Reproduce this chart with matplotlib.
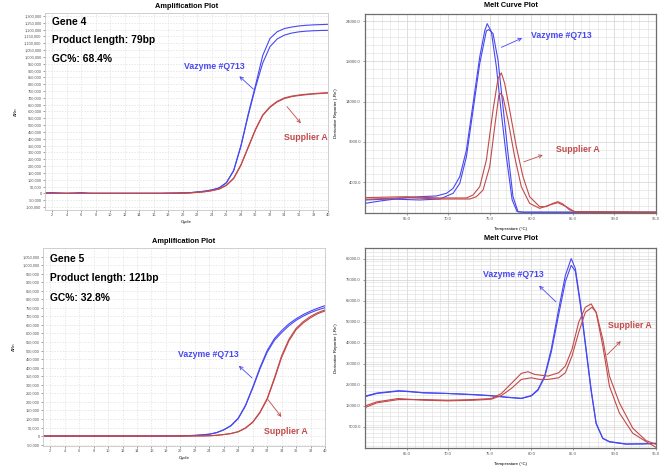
import numpy as np
import matplotlib
matplotlib.use("Agg")
import matplotlib.pyplot as plt
from matplotlib.ticker import MultipleLocator, FuncFormatter

plt.rcParams.update({
    'font.family': 'Liberation Sans',
    'axes.linewidth': 0.8,
    'xtick.major.size': 1.5,
    'ytick.major.size': 1.5,
    'xtick.major.width': 0.4,
    'ytick.major.width': 0.4,
    'xtick.minor.size': 0,
    'ytick.minor.size': 0,
    'xtick.color': '#555555',
    'ytick.color': '#555555',
})

BLUE = '#4848f0'
RED = '#c24a4a'

# === Amplification data (delta Rn per cycle) ===
cycles = list(range(1, 41))

g4_blue_1 = [3000, 5000, 2000, 0, 2000, 5000, 1000, 0, 0, 0, 0, 0, 0, 0, 0, 0, 0, 1000, 1500, 3000,
             5000, 10000, 16000, 25000, 40000, 78000, 169000, 350000, 580000, 790000,
             1010000, 1135000, 1185000, 1208000, 1219000, 1227000, 1232000, 1235000, 1237000, 1239000]
g4_blue_2 = [2000, 3000, 1000, 0, 1000, 3000, 0, 0, 0, 0, 0, 0, 0, 0, 0, 0, 0, 1000, 1500, 3000,
             5000, 10000, 16000, 25000, 40000, 78000, 165000, 345000, 570000, 775000,
             955000, 1075000, 1132000, 1160000, 1175000, 1184000, 1189000, 1192000, 1194000, 1195000]
g4_red_1 = [0, 0, 0, 0, 0, 0, 0, 0, 0, 0, 0, 0, 0, 0, 0, 0, 0, 500, 1000, 2000,
            4000, 7000, 12000, 20000, 32000, 60000, 112000, 210000, 340000, 470000,
            575000, 635000, 675000, 700000, 713000, 721000, 727000, 731000, 735000, 738000]
g4_red_2 = [0, 0, 0, 0, 0, 0, 0, 0, 0, 0, 0, 0, 0, 0, 0, 0, 0, 500, 1000, 2000,
            4000, 7000, 12000, 20000, 32000, 58000, 108000, 205000, 334000, 464000,
            570000, 630000, 670000, 695000, 709000, 717000, 723000, 728000, 732000, 735000]

g5_blue_1 = [0, 0, 0, 0, 0, 0, 0, 0, 0, 0, 0, 0, 0, 0, 0, 0, 500, 800, 1000, 1500,
             2500, 4000, 7000, 11000, 20000, 37000, 62000, 105000, 180000, 285000,
             400000, 500000, 570000, 617000, 656000, 686000, 711000, 731000, 748000, 763000]
g5_blue_2 = [0, 0, 0, 0, 0, 0, 0, 0, 0, 0, 0, 0, 0, 0, 0, 0, 500, 800, 1000, 1500,
             2500, 4000, 7000, 11000, 20000, 36000, 60000, 102000, 176000, 280000,
             392000, 490000, 560000, 605000, 645000, 677000, 702000, 722000, 738000, 751000]
g5_red_1 = [0, 0, 0, 0, 0, 0, 0, 0, 0, 0, 0, 0, 0, 0, 0, 0, 0, 0, 0, 300,
            500, 800, 1200, 2000, 4500, 9000, 15000, 26000, 48000, 82000,
            140000, 220000, 340000, 470000, 565000, 630000, 670000, 700000, 722000, 738000]
g5_red_2 = [0, 0, 0, 0, 0, 0, 0, 0, 0, 0, 0, 0, 0, 0, 0, 0, 0, 0, 0, 300,
            500, 800, 1200, 2000, 4500, 9000, 15000, 25000, 46000, 80000,
            136000, 214000, 332000, 460000, 556000, 622000, 662000, 692000, 716000, 732000]

# === Melt curve data (temperature, derivative reporter) ===
g4_blue_1_t = [60.0, 61.8, 64.2, 66.6, 68.6, 69.8, 70.6, 71.4, 72.2, 73.0, 73.8, 74.4, 74.7, 75.2,
               75.8, 76.4, 77.0, 77.7, 78.3, 79.0, 95.0]
g4_blue_1_v = [1350, 1640, 1970, 2180, 2270, 2600, 3220, 4670, 7980, 13770, 19570, 22800, 23700, 22680,
               18330, 12530, 7150, 1770, 320, 250, 240]
g4_blue_2_t = [60.0, 63.0, 66.6, 69.0, 70.6, 71.4, 72.2, 73.0, 73.8, 74.6, 74.9, 75.4, 76.0, 76.6,
               77.2, 77.8, 78.4, 79.0, 95.0]
g4_blue_2_v = [1770, 1890, 1770, 1890, 2600, 3840, 7150, 12950, 18740, 22800, 22960, 22470, 19160, 13360,
               7560, 2180, 320, 250, 240]
g4_red_1_t = [60.0, 65.0, 69.0, 72.2, 73.0, 73.8, 74.6, 75.4, 76.0, 76.4, 76.8, 77.4, 78.2, 79.0,
              79.8, 81.0, 81.8, 82.6, 83.2, 83.8, 84.6, 85.4, 95.0]
g4_red_1_v = [2060, 2180, 2020, 2020, 2390, 3420, 6740, 12950, 16880, 17580, 16260, 12950, 8390, 4670,
              2180, 940, 940, 1350, 1560, 1270, 530, 280, 240]
g4_red_2_t = [60.0, 65.0, 69.0, 72.6, 73.4, 74.2, 75.0, 75.6, 76.1, 76.3, 76.6, 77.2, 78.0, 78.8,
              79.8, 81.0, 82.2, 83.2, 84.2, 85.2, 95.0]
g4_red_2_v = [1850, 2060, 1890, 1890, 2180, 3010, 5910, 10880, 14810, 15020, 14600, 11700, 7150, 3420,
              1350, 730, 1150, 1440, 940, 320, 240]

g5_blue_1_t = [59.9, 61.4, 64.0, 65.0, 67.0, 70.0, 73.1, 75.1, 77.2, 78.8, 80.0, 80.8, 81.6, 82.4,
               83.3, 84.1, 84.8, 85.3, 85.9, 86.5, 87.2, 87.8, 88.6, 89.4, 91.4, 93.4, 95.0]
g5_blue_1_v = [19270, 20870, 21990, 21830, 21190, 20870, 20390, 19910, 19110, 18630, 19910, 22780, 29160, 41920,
               61060, 77000, 84990, 80200, 64250, 45100, 22780, 6830, -350, -1950, -3070, -3070, -2750]
g5_blue_2_t = [59.9, 61.4, 64.0, 65.0, 67.0, 70.0, 73.1, 75.1, 77.2, 78.8, 80.0, 80.8, 81.6, 82.4,
               83.3, 84.1, 84.8, 85.3, 85.9, 86.5, 87.2, 87.8, 88.6, 89.4, 91.4, 93.4, 95.0]
g5_blue_2_v = [19500, 21100, 22200, 22000, 21300, 20900, 20300, 19800, 19000, 18500, 19700, 22400, 28500, 40500,
               58500, 74000, 81800, 79000, 63000, 44000, 22000, 6500, -500, -2100, -3200, -3000, -2900]
g5_red_1_t = [59.9, 61.4, 64.0, 67.0, 70.0, 73.1, 75.2, 76.4, 77.6, 78.8, 79.6, 80.4, 82.0, 83.3,
              84.1, 84.9, 85.7, 86.5, 87.2, 87.8, 88.6, 89.4, 90.6, 92.2, 93.8, 95.2]
g5_red_1_v = [14030, 16420, 18020, 18020, 17700, 18020, 18500, 20870, 25660, 30440, 31230, 29960, 29160, 30750,
              33940, 41920, 54680, 61860, 63450, 59460, 43500, 24360, 11600, 2030, -1950, -5140]
g5_red_2_t = [59.9, 61.4, 64.0, 67.0, 70.0, 73.1, 75.2, 76.4, 77.6, 78.8, 80.0, 81.0, 82.0, 83.3,
              84.1, 84.9, 85.7, 86.5, 87.3, 87.8, 88.6, 89.4, 90.6, 92.2, 93.8, 95.2]
g5_red_2_v = [14830, 16900, 18500, 17700, 17400, 17700, 18200, 19910, 23260, 27570, 28360, 27570, 27570, 28360,
              30750, 38730, 49890, 59460, 61860, 59460, 46690, 29160, 16390, 4420, -1470, -3550]

W, H = 665, 473
fig = plt.figure(figsize=(W / 100, H / 100), dpi=100)
fig.patch.set_facecolor('white')


def px_rect(l, t, r, b):
    return [l / W, 1 - b / H, (r - l) / W, (b - t) / H]


def comma_fmt(v, pos):
    return f"{int(round(v)):,}"


def setup_amp(ax, ylim, ytop):
    ax.set_xlim(1, 40)
    ax.set_ylim(*ylim)
    ax.xaxis.set_major_locator(MultipleLocator(2))
    ax.set_yticks(np.arange(-100000 if ylim[0] < -100000 else -50000, ytop + 1, 50000))
    ax.yaxis.set_major_formatter(FuncFormatter(comma_fmt))
    ax.tick_params(labelsize=2.8, pad=1)
    ax.grid(True, linestyle=(0, (2, 2)), color='#dedede', linewidth=0.5)
    ax.set_axisbelow(True)
    for s in ax.spines.values():
        s.set_color('#c8c8c8')
        s.set_linewidth(0.6)
    ax.set_xlabel('Cycle', fontsize=3.2, labelpad=1.5)
    ax.set_ylabel('ΔRn', fontsize=3.2)
    ax.yaxis.set_label_coords(-0.095, 0.5)
    ax.text(0.5, 1.033, 'Amplification Plot', transform=ax.transAxes, ha='center', va='center',
            fontsize=5.3, fontweight='bold')


def setup_melt(ax, ylim, ymaj, ymin, ystart):
    ax.set_xlim(60, 95)
    ax.set_ylim(*ylim)
    ax.xaxis.set_minor_locator(MultipleLocator(1))
    ax.set_xticks(np.arange(65, 96, 5))
    ax.xaxis.set_major_formatter(FuncFormatter(lambda v, p: f"{v:.1f}"))
    ax.set_yticks(np.arange(ystart, ylim[1], ymaj))
    ax.yaxis.set_minor_locator(MultipleLocator(ymin))
    ax.yaxis.set_major_formatter(FuncFormatter(lambda v, p: f"{v:.1f}"))
    ax.tick_params(labelsize=3, pad=1.5)
    ax.grid(True, which='major', color='#d2d2d2', linewidth=0.5)
    ax.grid(True, which='minor', color='#e0e0e0', linewidth=0.45)
    ax.set_axisbelow(True)
    for s in ax.spines.values():
        s.set_color('#6e6e6e')
        s.set_linewidth(0.9)
    ax.set_xlabel('Temperature (°C)', fontsize=3.2, labelpad=4)
    ax.set_ylabel("Derivative Reporter (-Rn')", fontsize=3.2)
    ax.yaxis.set_label_coords(-0.093, 0.5)
    ax.text(0.5, 1.045, 'Melt Curve Plot', transform=ax.transAxes, ha='center', va='center',
            fontsize=5.3, fontweight='bold')


def gene_info(ax, ys, lines):
    for y, s in zip(ys, lines):
        ax.text(1.9, y, s, fontsize=7.4, fontweight='bold', va='center', ha='left')


def label(ax, text, xy, color, start, end):
    ax.text(xy[0], xy[1], text, color=color, fontsize=6.3, fontweight='bold', ha='center', va='center')
    ax.annotate('', xy=end, xytext=start,
                arrowprops=dict(arrowstyle='->', color=color, lw=0.6, mutation_scale=6))


# === Gene 4 amplification ===
ax1 = fig.add_axes(px_rect(45, 13, 328, 210))
setup_amp(ax1, (-122000, 1322000), 1300000)
ax1.plot(cycles, g4_blue_1, color=BLUE, lw=0.8)
ax1.plot(cycles, g4_blue_2, color=BLUE, lw=0.8)
ax1.plot(cycles, g4_red_1, color=RED, lw=0.8)
ax1.plot(cycles, g4_red_2, color=RED, lw=0.8)
gene_info(ax1, [1253000, 1121000, 982000], ['Gene 4', 'Product length: 79bp', 'GC%: 68.4%'])
label(ax1, 'Vazyme #Q713', (24.3, 931000), BLUE, (30.0, 750000), (27.5, 872000))
label(ax1, 'Supplier A', (36.9, 411000), RED, (34.1, 652000), (36.5, 498000))

# === Gene 4 melt ===
ax2 = fig.add_axes(px_rect(365, 14, 656, 213))
setup_melt(ax2, (150, 24900), 5000, 1000, 4000)
ax2.plot(g4_blue_1_t, g4_blue_1_v, color=BLUE, lw=0.8)
ax2.plot(g4_blue_2_t, g4_blue_2_v, color=BLUE, lw=0.8)
ax2.plot(g4_red_1_t, g4_red_1_v, color=RED, lw=0.8)
ax2.plot(g4_red_2_t, g4_red_2_v, color=RED, lw=0.8)
label(ax2, 'Vazyme #Q713', (83.6, 22170), BLUE, (76.1, 20610), (79.2, 22050))
label(ax2, 'Supplier A', (85.6, 8065), RED, (78.8, 6400), (81.7, 7480))

# === Gene 5 amplification ===
ax3 = fig.add_axes(px_rect(43, 248, 325, 446))
setup_amp(ax3, (-58000, 1100000), 1050000)
ax3.plot(cycles, g5_blue_1, color=BLUE, lw=0.8)
ax3.plot(cycles, g5_blue_2, color=BLUE, lw=0.8)
ax3.plot(cycles, g5_red_1, color=RED, lw=0.8)
ax3.plot(cycles, g5_red_2, color=RED, lw=0.8)
gene_info(ax3, [1035000, 923000, 810000], ['Gene 5', 'Product length: 121bp', 'GC%: 32.8%'])
label(ax3, 'Vazyme #Q713', (23.9, 479000), BLUE, (30.2, 329000), (27.8, 422000))
label(ax3, 'Supplier A', (34.6, 27000), RED, (31.9, 225000), (34.2, 99000))

# === Gene 5 melt ===
ax4 = fig.add_axes(px_rect(365, 248, 656, 448))
setup_melt(ax4, (-5000, 90000), 10000, 2000, 5000)
ax4.plot(g5_blue_1_t, g5_blue_1_v, color=BLUE, lw=0.8)
ax4.plot(g5_blue_2_t, g5_blue_2_v, color=BLUE, lw=0.8)
ax4.plot(g5_red_1_t, g5_red_1_v, color=RED, lw=0.8)
ax4.plot(g5_red_2_t, g5_red_2_v, color=RED, lw=0.8)
label(ax4, 'Vazyme #Q713', (77.9, 77500), BLUE, (83.2, 63500), (80.7, 73000))
label(ax4, 'Supplier A', (91.8, 53100), RED, (88.9, 38400), (91.0, 46700))

fig.savefig('out.png', dpi=100, facecolor='white')
